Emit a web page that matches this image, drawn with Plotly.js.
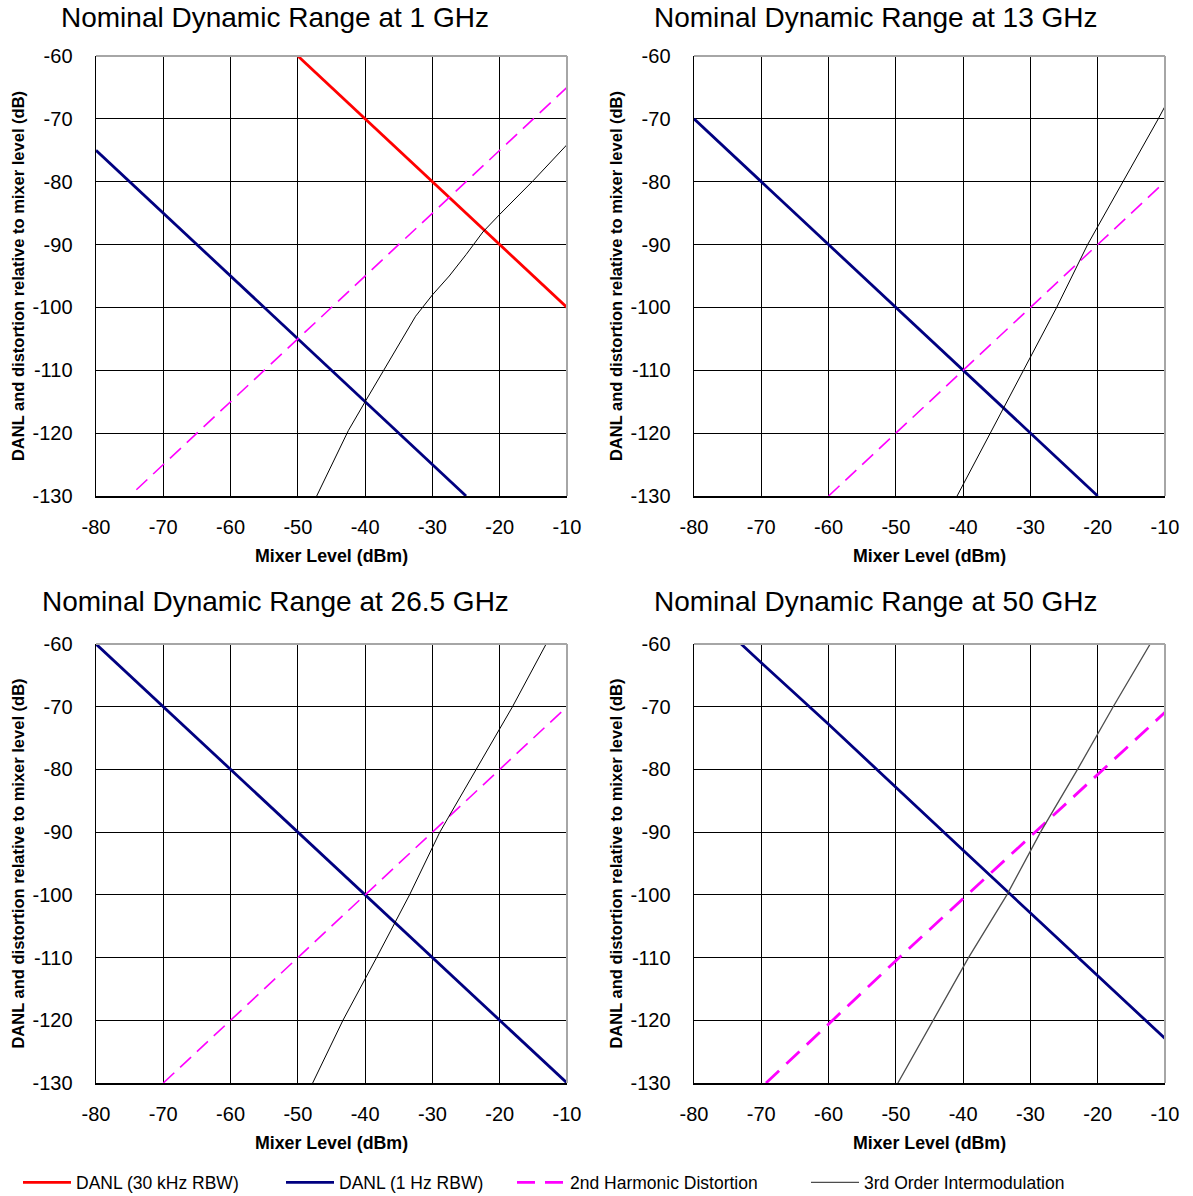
<!DOCTYPE html>
<html>
<head>
<meta charset="utf-8">
<script src="https://cdn.plot.ly/plotly-3.0.1.min.js"></script>
<style>
  html, body { margin: 0; padding: 0; background: #fff; }
  #chart { width: 1193px; height: 1196px; }
</style>
</head>
<body>
<div id="chart"></div>
<script>
// ---------- DATA ----------
const panelTitles = ['Nominal Dynamic Range at 1 GHz', 'Nominal Dynamic Range at 13 GHz',
                     'Nominal Dynamic Range at 26.5 GHz', 'Nominal Dynamic Range at 50 GHz'];
const seriesNames = ['DANL (30 kHz RBW)', 'DANL (1 Hz RBW)', '2nd Harmonic Distortion', '3rd Order Intermodulation'];
const xTickVals = [-80, -70, -60, -50, -40, -30, -20, -10];
const xTickText = ['-80', '-70', '-60', '-50', '-40', '-30', '-20', '-10'];
const yTickVals = [-130, -120, -110, -100, -90, -80, -70, -60];
const yTickText = ['-130', '-120', '-110', '-100', '-90', '-80', '-70', '-60'];
const xTitle = 'Mixer Level (dBm)';
const yTitle = 'DANL and distortion relative to mixer level (dB)';

// 1 GHz
const g1_danl30_x = [-50, -40, -30, -20, -10];
const g1_danl30_y = [-60, -70, -80, -90, -100];
const g1_danl1_x = [-80, -70, -60, -50, -40, -30, -25];
const g1_danl1_y = [-75, -85, -95, -105, -115, -125, -130];
const g1_h2_x = [-74, -70, -60, -50, -40, -30, -20, -10];
const g1_h2_y = [-129, -125, -115, -105, -95, -85, -75, -65];
const g1_im3_x = [-47.2, -45, -42.5, -40, -37.5, -35, -32.5, -30, -27.5, -25, -22.5, -20, -15, -10];
const g1_im3_y = [-130, -125.1, -119.6, -115, -110.4, -105.9, -101.4, -98, -95, -91.6, -88, -85.2, -79.8, -74.1];

// 13 GHz
const g13_danl1_x = [-80, -70, -60, -50, -40, -30, -20];
const g13_danl1_y = [-70, -80, -90, -100, -110, -120, -130];
const g13_h2_x = [-60, -50, -40, -30, -20, -10];
const g13_h2_y = [-130, -120, -110, -100, -90, -80];
const g13_im3_x = [-40.9, -36.0, -31.0, -26.1, -21.5, -16.2, -11.0, -10];
const g13_im3_y = [-130, -120, -110, -100, -90, -80, -70, -68];

// 26.5 GHz
const g26_danl1_x = [-80, -70, -60, -50, -40, -30, -20, -10];
const g26_danl1_y = [-60, -70, -80, -90, -100, -110, -120, -130];
const g26_h2_x = [-70, -60, -50, -40, -30, -20, -10];
const g26_h2_y = [-130, -120, -110, -100, -90, -80, -70];
const g26_im3_x = [-47.8, -43.3, -38.3, -33.4, -28.9, -23.5, -18.1, -13.1];
const g26_im3_y = [-130, -120, -110, -100, -90, -80, -70, -60];

// 50 GHz
const g50_danl1_x = [-73, -70, -60, -50, -40, -30, -20, -10];
const g50_danl1_y = [-60, -63, -72.8, -82.9, -92.9, -102.9, -112.9, -122.9];
const g50_h2_x = [-69.3, -60, -50, -40, -30, -20, -10];
const g50_h2_y = [-130, -120.6, -110.5, -100.6, -90.7, -80.7, -70.9];
const g50_im3_x = [-49.7, -39.2, -33.5, -28.5, -23.0, -17.7, -12.2];
const g50_im3_y = [-130, -110, -100, -90, -80, -70, -60];

// ---------- STYLE ----------
const FONT = 'Liberation Sans, Arial, Helvetica, sans-serif';
const RED = '#FF0000', NAVY = '#000080', MAGENTA = '#FF00FF', BLACK = '#000000', GREY = '#4d4d4d';

function tr(x, y, name, xa, ya, line, legend, showlegend) {
  return {
    type: 'scatter', mode: 'lines', x: x, y: y, name: name,
    xaxis: xa, yaxis: ya, line: line, hoverinfo: 'skip',
    showlegend: !!showlegend, legend: legend || 'legend'
  };
}

const data = [
  tr(g1_danl30_x, g1_danl30_y, seriesNames[0], 'x', 'y', {color: RED, width: 2.8}, 'legend', true),
  tr(g1_danl1_x, g1_danl1_y, seriesNames[1], 'x', 'y', {color: NAVY, width: 2.8}, 'legend2', true),
  tr(g1_h2_x, g1_h2_y, seriesNames[2], 'x', 'y', {color: MAGENTA, width: 1.6, dash: '15px,8px'}),
  tr(g1_im3_x, g1_im3_y, seriesNames[3], 'x', 'y', {color: BLACK, width: 1}),

  tr(g13_danl1_x, g13_danl1_y, seriesNames[1], 'x2', 'y2', {color: NAVY, width: 2.8}),
  tr(g13_h2_x, g13_h2_y, seriesNames[2], 'x2', 'y2', {color: MAGENTA, width: 1.6, dash: '15px,8px'}),
  tr(g13_im3_x, g13_im3_y, seriesNames[3], 'x2', 'y2', {color: BLACK, width: 1}),

  tr(g26_danl1_x, g26_danl1_y, seriesNames[1], 'x3', 'y3', {color: NAVY, width: 2.8}),
  tr(g26_h2_x, g26_h2_y, seriesNames[2], 'x3', 'y3', {color: MAGENTA, width: 1.6, dash: '15px,8px'}),
  tr(g26_im3_x, g26_im3_y, seriesNames[3], 'x3', 'y3', {color: BLACK, width: 1}),

  tr(g50_danl1_x, g50_danl1_y, seriesNames[1], 'x4', 'y4', {color: NAVY, width: 2.8}),
  tr(g50_h2_x, g50_h2_y, seriesNames[2], 'x4', 'y4', {color: MAGENTA, width: 2.8, dash: '18px,10px'}, 'legend3', true),
  tr(g50_im3_x, g50_im3_y, seriesNames[3], 'x4', 'y4', {color: GREY, width: 1.3}, 'legend4', true)
];

const W = 1193, H = 1196;
const colsPx = [[96, 567], [694, 1165]];
const rowsPx = [[56, 496], [644, 1083]];
const xd = c => [colsPx[c][0] / W, colsPx[c][1] / W];
const yd = r => [1 - rowsPx[r][1] / H, 1 - rowsPx[r][0] / H];

function xAxis(c, anchor) {
  return {
    domain: xd(c), anchor: anchor, range: [-80, -10], autorange: false,
    tickmode: 'array', tickvals: xTickVals, ticktext: xTickText,
    showgrid: true, gridcolor: '#000', gridwidth: 1, zeroline: false,
    showline: true, linecolor: '#000', linewidth: 1.5, ticks: '', ticklabelstandoff: 12,
    tickfont: {family: FONT, size: 20, color: '#000'},
    title: {text: '<b>' + xTitle + '</b>', font: {family: FONT, size: 17.8, color: '#000'}, standoff: 13},
    fixedrange: true
  };
}
function yAxis(r, anchor) {
  return {
    domain: yd(r), anchor: anchor, range: [-130, -60], autorange: false,
    tickmode: 'array', tickvals: yTickVals, ticktext: yTickText,
    showgrid: true, gridcolor: '#000', gridwidth: 1, zeroline: false,
    showline: true, linecolor: '#000', linewidth: 1.5, ticks: '', ticklabelstandoff: 18,
    tickfont: {family: FONT, size: 20, color: '#000'},
    title: {text: '<b>' + yTitle + '</b>', font: {family: FONT, size: 16.5, color: '#000'}, standoff: 3},
    fixedrange: true
  };
}

const titleX = [275 / W, 876 / W];
const titleY = [1 - 18 / H, 1 - 601 / H];
const annotations = panelTitles.map((t, i) => ({
  text: t, xref: 'paper', yref: 'paper',
  x: titleX[i % 2], y: titleY[Math.floor(i / 2)],
  xanchor: 'center', yanchor: 'middle', showarrow: false,
  font: {family: FONT, size: 28, color: '#000'}
}));

const axisIds = [['x', 'y'], ['x2', 'y2'], ['x3', 'y3'], ['x4', 'y4']];
const shapes = [];
axisIds.forEach(([xa, ya]) => {
  shapes.push({type: 'line', xref: xa + ' domain', yref: ya + ' domain', x0: 0, x1: 1, y0: 1, y1: 1,
               line: {color: '#a6a6a6', width: 2}, layer: 'above'});
  shapes.push({type: 'line', xref: xa + ' domain', yref: ya + ' domain', x0: 1, x1: 1, y0: 0, y1: 1,
               line: {color: '#a6a6a6', width: 2}, layer: 'above'});
});

function legendAt(px) {
  return {x: px / W, y: 1 - 1182.5 / H, xanchor: 'left', yanchor: 'middle', orientation: 'h',
          bgcolor: 'rgba(0,0,0,0)', borderwidth: 0, itemwidth: 48,
          font: {family: FONT, size: 17.5, color: '#000'}};
}

const layout = {
  width: W, height: H,
  margin: {l: 0, r: 0, t: 0, b: 0, pad: 0, autoexpand: false},
  paper_bgcolor: '#fff', plot_bgcolor: '#fff',
  showlegend: true,
  xaxis: xAxis(0, 'y'), yaxis: yAxis(0, 'x'),
  xaxis2: xAxis(1, 'y2'), yaxis2: yAxis(0, 'x2'),
  xaxis3: xAxis(0, 'y3'), yaxis3: yAxis(1, 'x3'),
  xaxis4: xAxis(1, 'y4'), yaxis4: yAxis(1, 'x4'),
  legend: legendAt(18), legend2: legendAt(281), legend3: legendAt(512), legend4: legendAt(806),
  annotations: annotations, shapes: shapes
};

Plotly.newPlot('chart', data, layout, {displayModeBar: false, staticPlot: true});
</script>
</body>
</html>
